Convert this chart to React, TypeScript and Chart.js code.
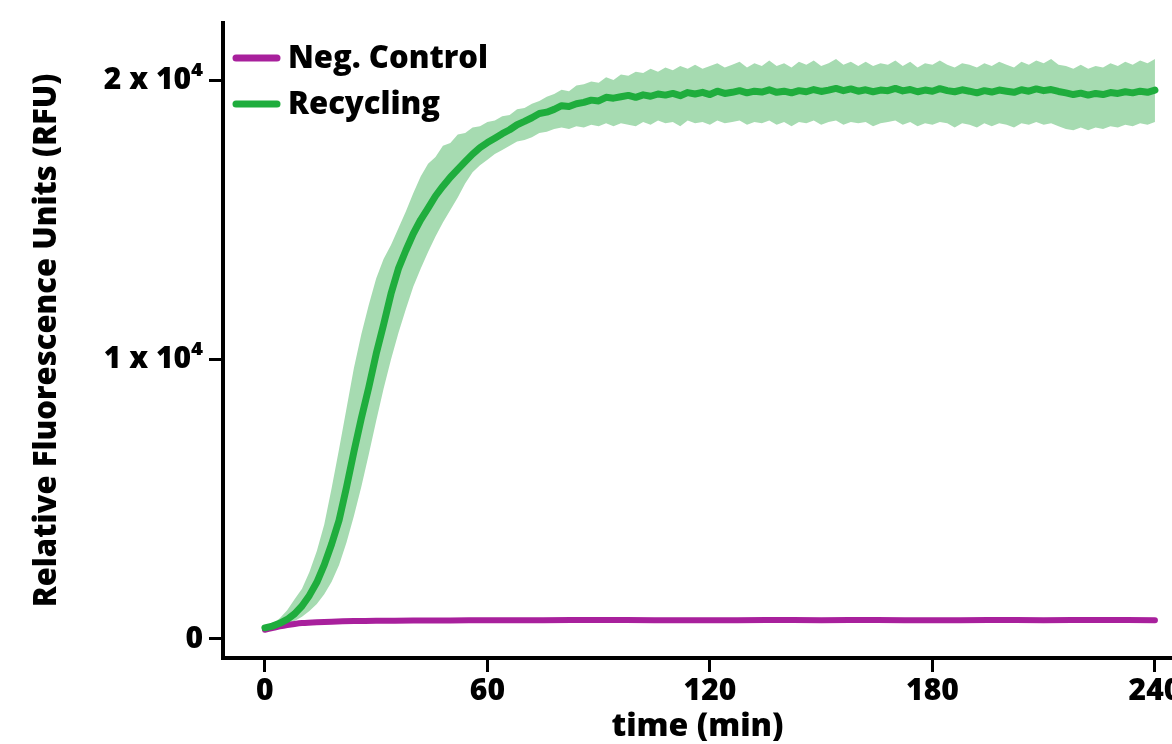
import React, { useEffect, useRef } from 'react';
import { Chart, registerables } from 'chart.js';

Chart.register(...registerables);

// ---------------- DATA ----------------
const TIMES = [
  0, 2, 4, 6, 8, 10, 12, 14, 16, 18,
  20, 22, 24, 26, 28, 30, 32, 34, 36, 38,
  40, 42, 44, 46, 48, 50, 52, 54, 56, 58,
  60, 62, 64, 66, 68, 70, 72, 74, 76, 78,
  80, 82, 84, 86, 88, 90, 92, 94, 96, 98,
  100, 102, 104, 106, 108, 110, 112, 114, 116, 118,
  120, 122, 124, 126, 128, 130, 132, 134, 136, 138,
  140, 142, 144, 146, 148, 150, 152, 154, 156, 158,
  160, 162, 164, 166, 168, 170, 172, 174, 176, 178,
  180, 182, 184, 186, 188, 190, 192, 194, 196, 198,
  200, 202, 204, 206, 208, 210, 212, 214, 216, 218,
  220, 222, 224, 226, 228, 230, 232, 234, 236, 238,
  240,
];

const RECYCLING_MEAN = [
  400, 460, 560, 700, 900, 1180, 1560, 2030, 2650, 3400,
  4250, 5430, 6700, 7900, 9000, 10200, 11250, 12350, 13250, 13900,
  14500, 15000, 15420, 15850, 16200, 16520, 16800, 17080, 17350, 17580,
  17760, 17920, 18080, 18220, 18400, 18520, 18650, 18800, 18850, 18950,
  19080, 19050, 19150, 19200, 19280, 19250, 19380, 19350, 19400, 19450,
  19380, 19470, 19420, 19500, 19460, 19520, 19440, 19550, 19500, 19560,
  19480, 19600, 19520, 19560, 19620, 19540, 19600, 19570, 19650, 19560,
  19600, 19540, 19620, 19580, 19660, 19590, 19640, 19700, 19620, 19680,
  19600, 19650, 19580, 19640, 19620, 19700, 19610, 19660, 19580, 19640,
  19600, 19690, 19620, 19580, 19650, 19600, 19540, 19620, 19570, 19640,
  19600, 19560, 19650, 19600, 19680, 19620, 19660, 19590, 19540, 19480,
  19530, 19460, 19520, 19480, 19550, 19520, 19580, 19540, 19600, 19560,
  19640,
];

const RECYCLING_UPPER = [
  430, 540, 740, 1030, 1420, 1800, 2400, 3150, 4100, 5400,
  6800, 8250, 9700, 10900, 11950, 12900, 13600, 14100, 14700, 15300,
  15950, 16550, 17000, 17250, 17650, 17750, 18050, 18100, 18300, 18350,
  18500, 18550, 18700, 18750, 18950, 19000, 19150, 19250, 19400, 19500,
  19650, 19600, 19800, 19850, 19950, 19900, 20100, 20000, 20200, 20150,
  20300, 20250, 20400, 20300, 20450, 20350, 20500, 20400, 20550, 20400,
  20500, 20600, 20450, 20550, 20650, 20450, 20600, 20500, 20700, 20500,
  20600, 20450, 20650, 20550, 20700, 20500, 20600, 20750, 20550, 20650,
  20500, 20650, 20500, 20600, 20550, 20700, 20500, 20650, 20450, 20600,
  20550, 20700, 20550, 20450, 20600, 20550, 20450, 20600, 20500, 20650,
  20550, 20450, 20650, 20550, 20700, 20600, 20750, 20550, 20500, 20400,
  20550, 20400, 20500, 20450, 20600, 20500, 20650, 20550, 20700, 20600,
  20750,
];

const RECYCLING_LOWER = [
  370, 400, 440, 520, 640, 800, 1000, 1250, 1600, 2050,
  2650, 3450, 4400, 5450, 6600, 7800, 8950, 10000, 10950, 11800,
  12600, 13250, 13850, 14400, 14900, 15350, 15800, 16300, 16700, 16950,
  17150, 17350, 17500, 17650, 17800, 17850, 17950, 18100, 18150, 18250,
  18300, 18250, 18350, 18300, 18400, 18350, 18450, 18350, 18450, 18400,
  18350, 18500, 18400, 18550, 18450, 18500, 18350, 18550, 18450, 18500,
  18400, 18550, 18450, 18500, 18550, 18400, 18500, 18450, 18550, 18400,
  18500, 18350, 18500, 18450, 18550, 18400, 18500, 18550, 18400, 18500,
  18450, 18500, 18350, 18450, 18500, 18550, 18400, 18500, 18350, 18450,
  18400, 18500, 18450, 18300, 18450, 18400, 18300, 18450, 18350, 18450,
  18400, 18300, 18450, 18400, 18500, 18400, 18450, 18350, 18250, 18200,
  18300, 18200, 18300, 18250, 18350, 18300, 18400, 18350, 18450, 18400,
  18500,
];

const NEG_TIMES = [0, 2, 4, 6, 8, 10, 14, 18, 24, 30, 40, 50, 60, 75, 90, 105, 120, 135, 150, 165, 180, 195, 210, 225, 240];
const NEG_VALUES = [330, 390, 450, 500, 540, 570, 600, 620, 640, 650, 660, 665, 670, 675, 680, 675, 670, 680, 675, 680, 670, 680, 675, 680, 675];

const X_TICKS = [0, 60, 120, 180, 240];
const Y_TICKS = [0, 10000, 20000];
const Y_TICK_LABELS = ['0', '1 x 10\u2074', '2 x 10\u2074'];

const SERIES_LABELS = ['Neg. Control', 'Recycling'];
const X_TITLE = 'time (min)';
const Y_TITLE = 'Relative Fluorescence Units (RFU)';

// ---------------- STYLE ----------------
const FONT_FAMILY = '"Open Sans", "DejaVu Sans", sans-serif';
const WEIGHT = 800;
const GREEN = '#1fad3d';
const MAGENTA = '#a8209c';
const BAND = '#a6dbb1';

const legendPlugin = {
  id: 'fixedLegend',
  afterDraw(chart: any) {
    const c = chart.ctx;
    const items = [chart.data.datasets[1], chart.data.datasets[0]];
    c.save();
    items.forEach((ds: any, i: number) => {
      const y = 58 + i * 46;
      c.strokeStyle = ds.borderColor;
      c.lineWidth = 7;
      c.lineCap = 'round';
      c.beginPath();
      c.moveTo(236, y);
      c.lineTo(277, y);
      c.stroke();
      c.fillStyle = '#000';
      c.font = `${WEIGHT} 31px ${FONT_FAMILY}`;
      c.textBaseline = 'middle';
      c.textAlign = 'left';
      c.fillText(ds.label, 288, y + 1);
    });
    c.restore();
  },
};

export default function App() {
  const ref = useRef<HTMLCanvasElement>(null);

  useEffect(() => {
    if (!ref.current) return;
    const tickFont = { family: FONT_FAMILY, weight: WEIGHT, size: 30 };
    const chart = new Chart(ref.current, {
      type: 'line',
      data: {
        datasets: [
          {
            label: SERIES_LABELS[1],
            data: TIMES.map((t, i) => ({ x: t, y: RECYCLING_MEAN[i] })),
            borderColor: GREEN,
            borderWidth: 7,
            pointRadius: 0,
            fill: false,
            borderCapStyle: 'round',
            borderJoinStyle: 'round',
            tension: 0,
          },
          {
            label: SERIES_LABELS[0],
            data: NEG_TIMES.map((t, i) => ({ x: t, y: NEG_VALUES[i] })),
            borderColor: MAGENTA,
            borderWidth: 6,
            pointRadius: 0,
            fill: false,
            borderCapStyle: 'round',
            borderJoinStyle: 'round',
            tension: 0.3,
          },
          {
            label: 'upper',
            data: TIMES.map((t, i) => ({ x: t, y: RECYCLING_UPPER[i] })),
            borderColor: 'rgba(0,0,0,0)',
            borderWidth: 1,
            backgroundColor: BAND,
            pointRadius: 0,
            fill: '+1',
            tension: 0,
          },
          {
            label: 'lower',
            data: TIMES.map((t, i) => ({ x: t, y: RECYCLING_LOWER[i] })),
            borderColor: 'rgba(0,0,0,0)',
            borderWidth: 1,
            pointRadius: 0,
            fill: false,
            tension: 0,
          },
        ],
      },
      options: {
        animation: false,
        responsive: false,
        devicePixelRatio: 1,
        layout: { padding: { top: 23, left: 0, right: 0, bottom: 0 } },
        plugins: {
          legend: { display: false },
          tooltip: { enabled: false },
        },
        scales: {
          x: {
            type: 'linear',
            min: -11.3,
            max: 244.6,
            afterBuildTicks: (s: any) => {
              s.ticks = X_TICKS.map((v) => ({ value: v }));
            },
            afterFit: (s: any) => {
              s.height = 86;
              s.paddingLeft = 0;
              s.paddingRight = 0;
            },
            border: { display: true, color: '#000', width: 4 },
            grid: {
              drawOnChartArea: false,
              drawTicks: true,
              tickLength: 14,
              tickWidth: 3,
              tickColor: '#000',
            },
            ticks: {
              color: '#000',
              font: tickFont,
              padding: 1,
              autoSkip: false,
              maxRotation: 0,
              callback: (v: any) => String(v),
            },
            title: {
              display: true,
              text: X_TITLE,
              color: '#000',
              font: { ...tickFont, size: 32, lineHeight: 1.1 },
              padding: { top: 0, bottom: 0 },
            },
          },
          y: {
            type: 'linear',
            min: -680,
            max: 22040,
            afterBuildTicks: (s: any) => {
              s.ticks = Y_TICKS.map((v) => ({ value: v }));
            },
            afterFit: (s: any) => {
              s.width = 223;
              s.paddingTop = 0;
              s.paddingBottom = 0;
            },
            border: { display: true, color: '#000', width: 4 },
            grid: {
              drawOnChartArea: false,
              drawTicks: true,
              tickLength: 14,
              tickWidth: 3,
              tickColor: '#000',
            },
            ticks: {
              color: '#000',
              font: tickFont,
              padding: 6,
              autoSkip: false,
              callback: (v: any) => {
                const idx = Y_TICKS.indexOf(Number(v));
                return idx >= 0 ? Y_TICK_LABELS[idx] : '';
              },
            },
            title: {
              display: true,
              text: Y_TITLE,
              color: '#000',
              font: { ...tickFont, size: 31 },
              padding: { top: 29, bottom: 0 },
            },
          },
        },
      },
      plugins: [legendPlugin],
    } as any);
    return () => chart.destroy();
  }, []);

  return (
    <div style={{ position: 'absolute', left: 0, top: 0, width: 1172, height: 744, background: '#fff' }}>
      <canvas ref={ref} width={1172} height={744} style={{ display: 'block' }} />
    </div>
  );
}
